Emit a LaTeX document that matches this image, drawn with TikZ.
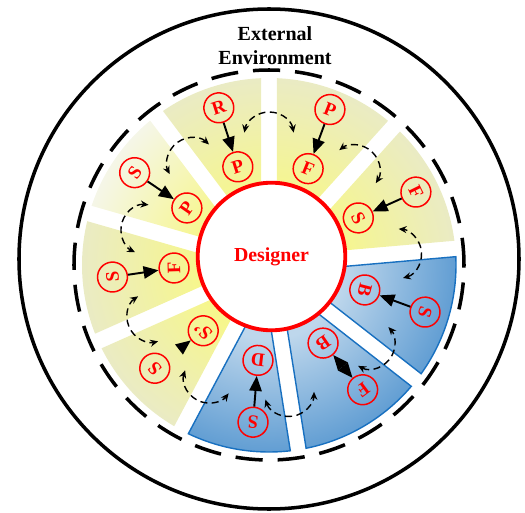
\documentclass[tikz,border=0pt]{standalone}
\usepackage{fontspec}
\setmainfont{Liberation Serif}
\usetikzlibrary{arrows.meta}

\definecolor{yelin}{RGB}{246,246,142}
\definecolor{yelout}{RGB}{234,235,196}
\definecolor{paleout}{RGB}{245,246,232}
\definecolor{bluein}{RGB}{190,215,236}
\definecolor{blueout}{RGB}{98,158,211}
\definecolor{blueline}{RGB}{24,112,192}

\pgfdeclareradialshading{yelshade}{\pgfpointorigin}{color(0bp)=(yelin); color(42bp)=(yelin); color(106bp)=(yelout); color(112bp)=(yelout)}
\pgfdeclareradialshading{paleshade}{\pgfpointorigin}{color(0bp)=(yelin); color(42bp)=(yelin); color(106bp)=(paleout); color(112bp)=(paleout)}
\pgfdeclareradialshading{blueshade}{\pgfpointorigin}{color(0bp)=(bluein); color(42bp)=(bluein); color(106bp)=(blueout); color(112bp)=(blueout)}

\tikzset{
  letter/.style={circle, draw=red, line width=0.85pt, text=red, minimum size=17pt, inner sep=0pt, font=\bfseries\fontsize{10.8}{12}\selectfont},
  link/.style={line width=1.1pt},
  turn/.style={line width=0.8pt, dash pattern=on 4pt off 2.5pt, {Stealth[length=4.5pt,width=4pt]}-{Stealth[length=4.5pt,width=4pt]}}
}

\begin{document}
\begin{tikzpicture}[scale=0.02, >={Triangle[length=8.5pt,width=7pt]}]
  \useasboundingbox (-269,-247) rectangle (256,265);
  \draw[line width=2pt] (0,6) circle (250);
  \draw[line width=2pt, dash pattern=on 15.5pt off 8.5pt] (0,0) circle (195);

  \foreach \a/\b/\sh in {90/127/yelshade, 48/90/yelshade, 5/48/yelshade, -38/5/blueshade, -81/-38/blueshade, -118/-81/blueshade, -156/-118/yelshade, 164/204/yelshade, 127/164/paleshade} {
    \begin{scope}
      \clip ({\a+2.45}:187) arc[start angle={\a+2.45}, end angle={\b-2.45}, radius=187] -- ({\b-7.66}:60) arc[start angle={\b-7.66}, end angle={\a+7.66}, radius=60] -- cycle;
      \node[inner sep=0pt] (fill\a) at (0,0) {\pgfuseshading{\sh}};
    \end{scope}
  }
  \foreach \a/\b in {-38/5, -81/-38, -118/-81}
    \draw[blueline, line width=0.8pt] ({\a+2.45}:187) arc[start angle={\a+2.45}, end angle={\b-2.45}, radius=187] -- ({\b-7.66}:60) arc[start angle={\b-7.66}, end angle={\a+7.66}, radius=60] -- cycle;

  \foreach \g in {90,48,5,-38,-81,-118,-156,164,127}
    \draw[turn] (\g:128) ++({\g-80}:25) arc[start angle={\g-80}, end angle={\g+80}, radius=25];

  \node[circle, draw=red, line width=2.2pt, fill=white, minimum size=84pt, text=red, font=\bfseries\fontsize{11.3}{13}\selectfont] (designer) at (2.5,8.5) {Designer};
  \node[align=center, inner sep=0pt, font=\bfseries\fontsize{11.4}{13.4}\selectfont] (env) at (6,219.5) {External\\Environment};

  \foreach \n/\a/\r/\t in {R1/107.7/165/R, P1/107.6/103/P, P2/68.6/167/P, F2/67.9/104/F,
      F3/26.4/164/F, S3/27.8/101/S, S4/-16.8/163/S, B4/-14.6/99/B,
      F5/-53.1/156/F, B5/-55.3/95/B, S6/-95.8/158/S, D6/-96.6/96/D,
      S7/-137.9/154/S, Sp7/-135/93/S', S8/184.4/157/S, F8/181.8/95/F,
      S9/145.5/163/S, P9/145.2/100/P}
    \node[letter, rotate=\a-90] (\n) at (\a:\r) {\t};

  \foreach \u/\v in {R1/P1, P2/F2, F3/S3, S4/B4, S6/D6, S8/F8, S9/P9}
    \draw[link, ->] (\u) -- (\v);
  \draw[link, <->] (B5) -- (F5);
  \draw[link, ->, shorten <=9.5pt] (S7) -- (Sp7);
\end{tikzpicture}
\end{document}
